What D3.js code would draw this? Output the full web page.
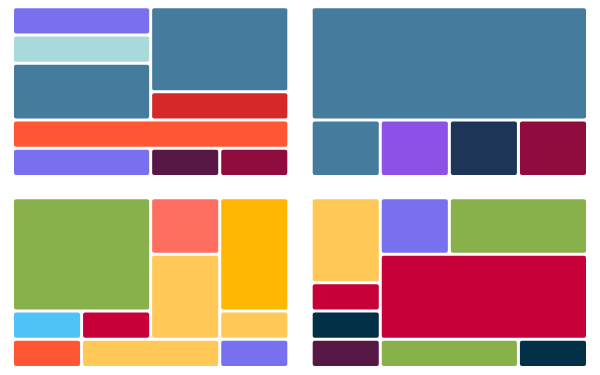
<!DOCTYPE html>
<html>
<head>
<meta charset="utf-8">
<script src="https://cdn.jsdelivr.net/npm/d3@7"></script>
<style>
  html, body { margin: 0; padding: 0; background: #fff; }
  svg { display: block; }
</style>
</head>
<body>
<div class="chart"></div>
<script>
// grid of each panel: 4 columns x 6 rows
const gridCols = 4;
const gridRows = 6;

const panels = ["top-left", "top-right", "bottom-left", "bottom-right"];

// cells: [col, row, colSpan, rowSpan, colour]
const topLeftCells = [
  [0, 0, 2, 1, "#7970F0"],
  [0, 1, 2, 1, "#A8DADC"],
  [0, 2, 2, 2, "#457B9D"],
  [2, 0, 2, 3, "#457B9D"],
  [2, 3, 2, 1, "#D62828"],
  [0, 4, 4, 1, "#FF5733"],
  [0, 5, 2, 1, "#7970F0"],
  [2, 5, 1, 1, "#581845"],
  [3, 5, 1, 1, "#900C3F"]
];

const topRightCells = [
  [0, 0, 4, 4, "#457B9D"],
  [0, 4, 1, 2, "#457B9D"],
  [1, 4, 1, 2, "#8E51E6"],
  [2, 4, 1, 2, "#1D3557"],
  [3, 4, 1, 2, "#900C3F"]
];

const bottomLeftCells = [
  [0, 0, 2, 4, "#88B04B"],
  [2, 0, 1, 2, "#FF6F61"],
  [3, 0, 1, 4, "#FFB703"],
  [2, 2, 1, 3, "#FFC857"],
  [0, 4, 1, 1, "#4FC3F7"],
  [1, 4, 1, 1, "#C70039"],
  [3, 4, 1, 1, "#FFC857"],
  [0, 5, 1, 1, "#FF5733"],
  [1, 5, 2, 1, "#FFC857"],
  [3, 5, 1, 1, "#7970F0"]
];

const bottomRightCells = [
  [0, 0, 1, 3, "#FFC857"],
  [1, 0, 1, 2, "#7970F0"],
  [2, 0, 2, 2, "#88B04B"],
  [1, 2, 3, 3, "#C70039"],
  [0, 3, 1, 1, "#C70039"],
  [0, 4, 1, 1, "#023047"],
  [0, 5, 1, 1, "#581845"],
  [1, 5, 2, 1, "#88B04B"],
  [3, 5, 1, 1, "#023047"]
];

const panelCells = [topLeftCells, topRightCells, bottomLeftCells, bottomRightCells];

const width = 600;
const height = 375;
const gap = 3;

const svg = d3.select(".chart").append("svg")
  .attr("width", width)
  .attr("height", height);

// 2 x 2 arrangement of panels
const panelX = d3.scaleBand().domain([0, 1]).range([14, 586]).paddingInner(0.085);
const panelY = d3.scaleBand().domain([0, 1]).range([8.3, 366]).paddingInner(0.127);

panels.forEach((name, i) => {
  const px = panelX(i % 2);
  const py = panelY(Math.floor(i / 2));

  const x = d3.scaleLinear().domain([0, gridCols]).range([px, px + panelX.bandwidth() + gap]);
  const y = d3.scaleLinear().domain([0, gridRows]).range([py, py + panelY.bandwidth() + gap]);

  svg.append("g")
    .attr("class", `panel ${name}`)
    .selectAll("rect")
    .data(panelCells[i])
    .enter()
    .append("rect")
    .attr("x", d => x(d[0]))
    .attr("y", d => y(d[1]))
    .attr("width", d => x(d[0] + d[2]) - x(d[0]) - gap)
    .attr("height", d => y(d[1] + d[3]) - y(d[1]) - gap)
    .attr("rx", 2)
    .attr("fill", d => d[4]);
});
</script>
</body>
</html>
